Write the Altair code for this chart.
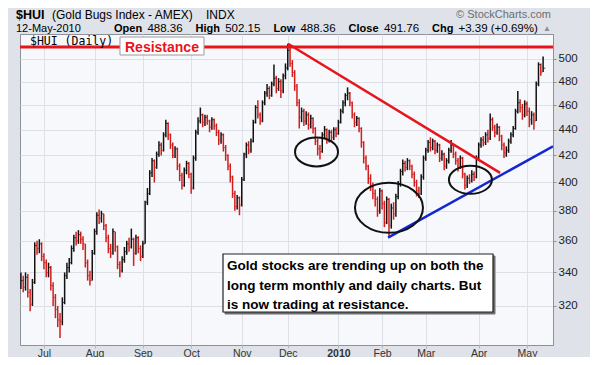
import json
import altair as alt
import pandas as pd

# ---------------- data ----------------
close = [
    335, 331, 337, 328, 321, 334, 357, 355, 358, 350,
    346, 340, 343, 332, 325, 318, 312, 311, 322, 338,
    343, 346, 355, 362, 360, 364, 361, 358, 346, 338,
    335, 352, 366, 377, 375, 378, 370, 362, 355, 352,
    366, 356, 345, 341, 348, 353, 358, 356, 361, 352,
    362, 355, 350, 358, 386, 392, 407, 416, 411, 421,
    428, 424, 436, 445, 436, 428, 420, 425, 412, 405,
    398, 409, 414, 406, 396, 418, 438, 447, 452, 446,
    450, 447, 442, 448, 443, 438, 432, 436, 426, 420,
    412, 404, 392, 383, 389, 384, 402, 421, 428, 424,
    431, 446, 458, 452, 447, 462, 470, 474, 468, 478,
    483, 474, 480, 472, 485, 492, 508, 496, 488, 476,
    462, 450, 455, 447, 452, 444, 449, 441, 431, 425,
    423, 436, 440, 432, 438, 434, 440, 437, 446, 455,
    462, 468, 470, 462, 452, 446, 449, 441, 430, 418,
    412, 403, 398, 392, 388, 380, 394, 385, 372, 388,
    370, 382, 378, 390, 399, 408, 414, 411, 416, 412,
    406, 400, 394, 392, 404, 418, 424, 430, 426, 431,
    424, 428, 418, 421, 412, 416, 424, 428, 421, 416,
    411, 418, 406, 398, 403, 401, 406, 404, 418, 428,
    432, 430, 436, 433, 448, 442, 438, 442, 435, 428,
    422, 424, 431, 436, 441, 455, 462, 458, 452, 461,
    455, 448, 452, 447, 478, 495, 488.37, 491.76,
]
high = [
    340, 338, 340, 339, 330, 336, 359, 360, 361, 359,
    352, 348, 346, 344, 334, 327, 320, 316, 325, 340,
    346, 349, 357, 364, 366, 367, 366, 363, 358, 348,
    341, 354, 368, 379, 381, 380, 378, 371, 364, 358,
    368, 366, 357, 347, 350, 356, 360, 362, 368, 362,
    364, 363, 357, 360, 387, 396, 409, 418, 417, 423,
    431, 430, 438, 448, 446, 437, 430, 427, 426, 414,
    407, 411, 416, 415, 407, 420, 440, 450, 458, 453,
    452, 452, 448, 450, 449, 445, 440, 438, 437, 428,
    421, 414, 405, 394, 391, 390, 404, 422, 430, 431,
    433, 448, 460, 464, 454, 464, 472, 478, 476, 480,
    495, 485, 483, 482, 487, 496, 514, 510, 499, 490,
    478, 465, 458, 457, 455, 454, 452, 450, 442, 433,
    428, 438, 443, 441, 440, 440, 442, 442, 448, 457,
    464, 470, 475, 471, 463, 454, 451, 450, 442, 431,
    420, 413, 406, 400, 395, 390, 396, 395, 387, 390,
    389, 385, 386, 392, 401, 410, 417, 416, 418, 417,
    413, 408, 402, 397, 406, 420, 426, 432, 434, 433,
    432, 430, 429, 424, 422, 418, 426, 432, 429, 423,
    418, 420, 419, 407, 405, 406, 409, 408, 420, 430,
    434, 435, 438, 440, 453, 450, 444, 445, 443, 436,
    430, 427, 433, 438, 443, 457, 472, 465, 461, 464,
    463, 458, 455, 454, 480, 497, 496, 502.15,
]
low = [
    330, 328, 329, 325, 317, 320, 333, 351, 352, 347,
    342, 337, 337, 329, 320, 313, 308, 302, 309, 321,
    336, 340, 345, 353, 357, 358, 358, 354, 343, 335,
    332, 335, 351, 364, 371, 372, 367, 359, 352, 349,
    351, 353, 342, 337, 340, 346, 351, 353, 355, 344,
    351, 352, 347, 349, 358, 384, 391, 404, 400, 410,
    419, 420, 423, 434, 432, 425, 418, 418, 409, 401,
    395, 397, 406, 403, 392, 395, 416, 436, 445, 442,
    443, 444, 438, 440, 440, 435, 428, 429, 423, 416,
    409, 400, 389, 380, 381, 377, 383, 401, 418, 421,
    422, 430, 445, 449, 444, 446, 460, 467, 465, 467,
    476, 470, 472, 466, 470, 482, 490, 493, 484, 472,
    459, 441, 446, 443, 444, 440, 441, 437, 428, 420,
    417, 422, 433, 429, 430, 431, 432, 434, 436, 445,
    453, 459, 464, 459, 449, 442, 443, 438, 426, 414,
    409, 399, 394, 388, 383, 376, 378, 381, 369, 371,
    363, 368, 374, 376, 388, 397, 405, 408, 409, 409,
    403, 397, 390, 389, 391, 402, 416, 422, 423, 424,
    421, 422, 415, 416, 409, 410, 414, 422, 418, 413,
    408, 410, 403, 395, 396, 399, 400, 401, 403, 416,
    426, 427, 428, 430, 432, 439, 434, 436, 431, 424,
    418, 419, 422, 429, 434, 440, 453, 454, 448, 450,
    451, 442, 444, 440, 447, 476, 485, 488.36,
]

month_idx = [10, 32, 53, 74, 96, 116, 138, 157, 176, 199, 220]
month_lbl = ["Jul", "Aug", "Sep", "Oct", "Nov", "Dec", "2010", "Feb", "Mar", "Apr", "May"]
y_ticks = [320, 340, 360, 380, 400, 420, 440, 460, 480, 500]

resistance_level = [511]
down_x = [116.1, 208.3]
down_y = [514, 407]
up_x = [159.6, 231.3]
up_y = [362, 427]
ell_x = [128.5, 160.0, 195.4]
ell_y = [422.7, 382.1, 401.9]

note_lines = [
    "Gold stocks are trending up on both the",
    "long term monthly and daily charts. But",
    "is now trading at resistance.",
]

# ---------------- build tables ----------------
n = min(len(close), len(high), len(low))
df = pd.DataFrame({"i": list(range(n)), "close": close[:n], "high": high[:n], "low": low[:n]})
df["dir"] = ["up"] + ["up" if close[k] >= close[k - 1] else "down" for k in range(1, n)]

FONT = "Liberation Sans"
W, H = 533, 311

xscale = alt.Scale(domain=[-0.4, 231.3], nice=False, zero=False)
yscale = alt.Scale(type="log", domain=[298.2, 523.1], nice=False, zero=False)

label_expr = "{}[indexof({}, datum.value)]".format(json.dumps(month_lbl), json.dumps(month_idx))

xaxis = alt.Axis(
    values=month_idx, labelExpr=label_expr, title=None, grid=True,
    gridColor="#dde0e7", gridWidth=1, domain=False, tickSize=3, tickColor="#b0b4bc",
    labelFont=FONT, labelFontSize=10.5, labelColor="#333333", labelPadding=8,
    labelBaseline="alphabetic", labelFlush=False,
    labelFontWeight={"condition": {"test": "datum.value == 138", "value": "bold"}, "value": "normal"},
)
yaxis = alt.Axis(
    orient="right", values=y_ticks, format="d", title=None, grid=True,
    gridColor="#dde0e7", gridWidth=1, domain=True, domainColor="#8c919a",
    tickSize=3, tickColor="#8c919a", labelFont=FONT, labelFontSize=11.5,
    labelColor="#222222", labelPadding=2,
)

color_enc = alt.Color(
    "dir:N", scale=alt.Scale(domain=["up", "down"], range=["#111111", "#d21d1d"]), legend=None
)

bars = alt.Chart(df).mark_rule(strokeWidth=1.5).encode(
    x=alt.X("i:Q", scale=xscale, axis=xaxis, title=None),
    y=alt.Y("low:Q", scale=yscale, axis=yaxis, title=None),
    y2="high:Q",
    color=color_enc,
)

close_ticks = alt.Chart(df).mark_tick(orient="horizontal", size=2.2, thickness=1, xOffset=1.1).encode(
    x=alt.X("i:Q", title=None),
    y=alt.Y("close:Q", title=None),
    color=color_enc,
)

resist = alt.Chart(pd.DataFrame({"v": resistance_level})).mark_rule(
    color="#e8141c", strokeWidth=3
).encode(y=alt.Y("v:Q", title=None))

down_line = alt.Chart(pd.DataFrame({"i": down_x, "v": down_y})).mark_line(
    color="#e8141c", strokeWidth=2.5
).encode(x=alt.X("i:Q", title=None), y=alt.Y("v:Q", title=None))

up_line = alt.Chart(pd.DataFrame({"i": up_x, "v": up_y})).mark_line(
    color="#1426d0", strokeWidth=2.5, clip=True
).encode(x=alt.X("i:Q", title=None), y=alt.Y("v:Q", title=None))


def ell_path(r):
    return "M -1 0 A 1 {r} 0 1 1 1 0 A 1 {r} 0 1 1 -1 0 Z".format(r=r)


ell_df = pd.DataFrame({
    "i": ell_x, "v": ell_y,
    "shape": [ell_path(0.674), ell_path(0.735), ell_path(0.651)],
    "size": [1849, 4624, 1849],
})
ellipses = alt.Chart(ell_df).mark_point(filled=False, color="#111111", strokeWidth=2, opacity=1).encode(
    x=alt.X("i:Q", title=None),
    y=alt.Y("v:Q", title=None),
    shape=alt.Shape("shape:N", scale=None),
    size=alt.Size("size:Q", scale=None),
)

ONE = pd.DataFrame({"a": [0]})


def txt(s, x, y, size=11, weight="normal", color="#000000", font=FONT, align="left"):
    return alt.Chart(ONE).mark_text(
        text=s, font=font, fontSize=size, fontWeight=weight, color=color,
        align=align, baseline="alphabetic",
    ).encode(x=alt.value(x), y=alt.value(y))


def box(x1, y1, x2, y2, fill="#ffffff", stroke="#888888", sw=1):
    return alt.Chart(ONE).mark_rect(fill=fill, stroke=stroke, strokeWidth=sw).encode(
        x=alt.value(x1), x2=alt.value(x2), y=alt.value(y1), y2=alt.value(y2)
    )


# view coordinates = page coordinates - (20, 34)
L1, L2 = -15, -2.5
header = [
    txt("$HUI", -4, L1, size=12.5, weight="bold"),
    txt("(Gold Bugs Index - AMEX)", 32, L1, size=12),
    txt("INDX", 186, L1, size=12),
    txt("12-May-2010", -4, L2, size=11),
    txt("Open", 94, L2, size=11, weight="bold"),
    txt("488.36", 127.4, L2, size=11.5),
    txt("High", 175.6, L2, size=11, weight="bold"),
    txt("502.15", 205.2, L2, size=11.5),
    txt("Low", 253.4, L2, size=11, weight="bold"),
    txt("488.36", 280.4, L2, size=11.5),
    txt("Close", 328.6, L2, size=11, weight="bold"),
    txt("491.76", 363.9, L2, size=11.5),
    txt("Chg", 412.1, L2, size=11, weight="bold"),
    txt("+3.39 (+0.69%)", 438.5, L2, size=11.5),
    txt("\u25b2", 523, L2 - 1, size=8, color="#8a8f99"),
    txt("\u00a9 StockCharts.com", 531, -16, size=11, color="#6a6e76", align="right"),
]

legend = [
    txt("$HUI (Daily)", 10, 11, size=11.5, font="DejaVu Sans Mono"),
]

res_box = [
    box(100, 3, 184, 21, stroke="#9a9a9a"),
    txt("Resistance", 105, 18, size=14, weight="bold", color="#e8141c"),
]

note = [
    box(205, 222, 475, 280, fill="#6e6e6e", stroke="#6e6e6e"),
    box(203, 220, 473, 278, stroke="#222222", sw=1.2),
]
for k, line in enumerate(note_lines):
    note.append(txt(line, 207, 236 + 19.5 * k, size=13.5, weight="bold"))

chart = alt.layer(
    bars, close_ticks, resist, down_line, up_line, ellipses, *legend, *res_box, *note, *header
).properties(
    width=W, height=H,
    autosize=alt.AutoSizeParams(type="none"),
    padding={"left": 12, "top": 26, "right": 37, "bottom": 12},
).configure(
    background="#dfe2e8",
).configure_view(
    fill="#f7f8fb", stroke="#8c919a", strokeWidth=1,
)

chart.save("out.html", embed_options={"renderer": "svg", "actions": False})
